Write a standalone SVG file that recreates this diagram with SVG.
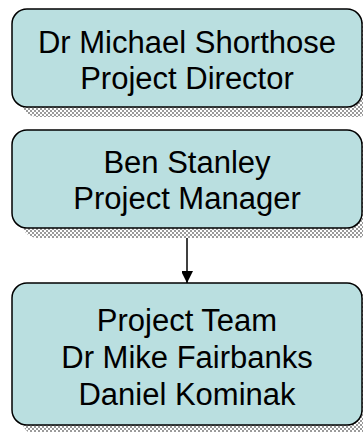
<svg xmlns="http://www.w3.org/2000/svg" width="363" height="432" viewBox="0 0 363 432">
  <defs>
    <!-- dithered drop shadow -->
    <pattern id="dither" width="4" height="4" patternUnits="userSpaceOnUse">
      <rect width="4" height="4" fill="#ffffff"/>
      <rect x="0" y="0" width="2" height="2" fill="#9a9a9a"/>
      <rect x="2" y="2" width="2" height="2" fill="#9a9a9a"/>
    </pattern>
    <marker id="arrow" markerWidth="12" markerHeight="11" refX="12" refY="6" orient="auto" markerUnits="userSpaceOnUse">
      <path d="M0,0 L12,6 L0,12 Z" fill="#000"/>
    </marker>
  </defs>
  <style>
    .shadow { fill: url(#dither); }
    .box { fill: #badfe0; stroke: #000; stroke-width: 1.5; }
    .label { font-family: "Liberation Sans", Arial, sans-serif; font-size: 31px; fill: #000; text-anchor: middle; }
    .edge { stroke: #000; stroke-width: 1.5; fill: none; }
  </style>

  <g id="edges">
    <line class="edge" x1="187" y1="228" x2="187" y2="283" marker-end="url(#arrow)"/>
  </g>

  <g id="director">
    <rect class="shadow" x="22" y="19" width="350" height="98" rx="15"/>
    <rect class="box" x="12" y="9" width="350" height="98" rx="15"/>
    <text class="label" x="187" y="53">Dr Michael Shorthose</text>
    <text class="label" x="187" y="89">Project Director</text>
  </g>

  <g id="manager">
    <rect class="shadow" x="22" y="140" width="350" height="98" rx="15"/>
    <rect class="box" x="12" y="130" width="350" height="98" rx="15"/>
    <text class="label" x="187" y="173">Ben Stanley</text>
    <text class="label" x="187" y="209">Project Manager</text>
  </g>

  <g id="team">
    <rect class="shadow" x="22" y="293" width="350" height="142" rx="15"/>
    <rect class="box" x="12" y="283" width="350" height="142" rx="15"/>
    <text class="label" x="187" y="331">Project Team</text>
    <text class="label" x="187" y="368">Dr Mike Fairbanks</text>
    <text class="label" x="187" y="405">Daniel Kominak</text>
  </g>
</svg>
